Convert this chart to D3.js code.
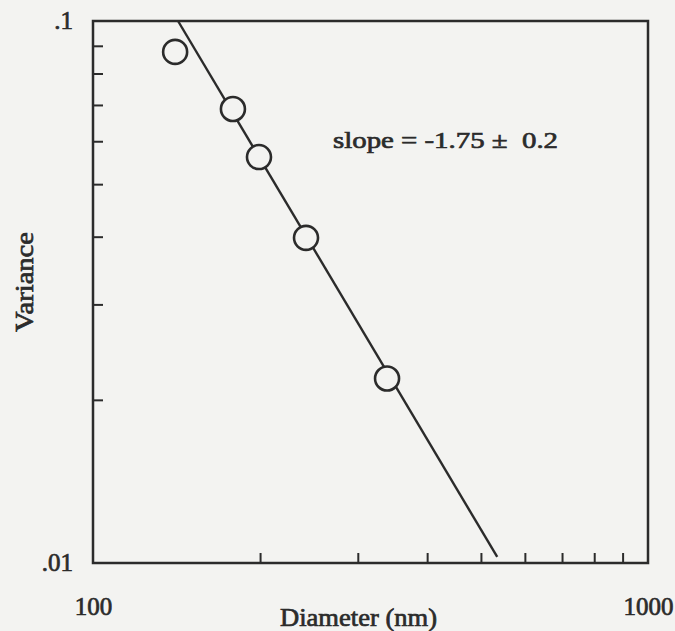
<!DOCTYPE html>
<html>
<head>
<meta charset="utf-8">
<script src="https://cdn.jsdelivr.net/npm/d3@7"></script>
<style>
  body { margin: 0; background: #f3f3f1; }
  svg { display: block; }
  text { font-family: "Liberation Serif", "Times New Roman", serif; fill: #2b2b2b;
         stroke: #2b2b2b; stroke-width: 0.7px; }
</style>
</head>
<body>
<div id="chart"></div>
<script>
// Data
const diameters = [140.6, 178.7, 199.1, 242.0, 338.7];
const variances = [0.0877, 0.0688, 0.0561, 0.0398, 0.0219];

// fitted line, slope -1.75
const fitDiameters = [142.3, 535];
const fitVariances = [0.1, 0.01026];

const xMinorTicks = [200, 300, 400, 500, 600, 700, 800, 900];
const yMinorTicks = [0.02, 0.03, 0.04, 0.05, 0.06, 0.07, 0.08, 0.09];
const xTickLabels = [100, 1000];
const yTickLabels = [0.01, 0.1];

const slopeText = "slope = -1.75 \u00b1  0.2";

// dimensions
const margin = { top: 21, right: 27, bottom: 68, left: 93 },
      width = 675 - margin.left - margin.right,
      height = 631 - margin.top - margin.bottom;

const svg = d3.select("#chart")
              .append("svg")
              .attr("width", 675)
              .attr("height", 631)
              .append("g")
              .attr("transform", `translate(${margin.left},${margin.top})`);

const x = d3.scaleLog().domain([100, 1000]).range([0, width]);
const y = d3.scaleLog().domain([0.01, 0.1]).range([height, 0]);

const ink = "#2b2b2b";

// frame
svg.append("rect")
   .attr("width", width)
   .attr("height", height)
   .attr("fill", "none")
   .attr("stroke", ink)
   .attr("stroke-width", 2.5);

// minor ticks pointing inside
const xAxis = svg.append("g")
   .attr("transform", `translate(0, ${height})`)
   .call(d3.axisBottom(x).tickValues(xMinorTicks).tickSize(-10).tickFormat(""));
const yAxis = svg.append("g")
   .call(d3.axisLeft(y).tickValues(yMinorTicks).tickSize(-10).tickFormat(""));
[xAxis, yAxis].forEach(g => {
    g.select(".domain").remove();
    g.selectAll("line").attr("stroke", ink).attr("stroke-width", 2);
});

// tick labels
const xLab = svg.append("g")
   .attr("transform", `translate(0, ${height})`)
   .call(d3.axisBottom(x).tickValues(xTickLabels).tickSize(0).tickPadding(34)
           .tickFormat(d3.format("d")));
const yLab = svg.append("g")
   .call(d3.axisLeft(y).tickValues(yTickLabels).tickSize(0).tickPadding(20)
           .tickFormat(d => d === 0.1 ? ".1" : ".01"));
[xLab, yLab].forEach(g => {
    g.select(".domain").remove();
    g.selectAll("text")
     .style("font-family", "Liberation Serif, serif")
     .style("font-size", "25px")
     .attr("fill", ink);
});
yLab.selectAll("text").attr("dy", "0.3em");

// axis titles
svg.append("text")
   .attr("x", 280 - margin.left)
   .attr("y", height + 63)
   .attr("textLength", 157)
   .attr("lengthAdjust", "spacingAndGlyphs")
   .style("font-size", "25px")
   .text("Diameter (nm)");

svg.append("text")
   .attr("transform", "rotate(-90)")
   .attr("x", -(332 - margin.top))
   .attr("y", -margin.left + 33)
   .attr("textLength", 100)
   .attr("lengthAdjust", "spacingAndGlyphs")
   .style("font-size", "26px")
   .text("Variance");

// fit line
const line = d3.line()
               .x(d => x(d[0]))
               .y(d => y(d[1]));
svg.append("path")
   .datum(d3.zip(fitDiameters, fitVariances))
   .attr("fill", "none")
   .attr("stroke", ink)
   .attr("stroke-width", 2.4)
   .attr("d", line);

// data points
svg.selectAll("circle")
   .data(d3.zip(diameters, variances))
   .join("circle")
   .attr("cx", d => x(d[0]))
   .attr("cy", d => y(d[1]))
   .attr("r", 12)
   .attr("fill", "#f3f3f1")
   .attr("stroke", ink)
   .attr("stroke-width", 2.6);

// annotation
svg.append("text")
   .attr("x", 333 - margin.left)
   .attr("y", 148 - margin.top)
   .attr("textLength", 225)
   .attr("lengthAdjust", "spacingAndGlyphs")
   .style("font-size", "24px")
   .style("white-space", "pre")
   .text(slopeText);
</script>
</body>
</html>
